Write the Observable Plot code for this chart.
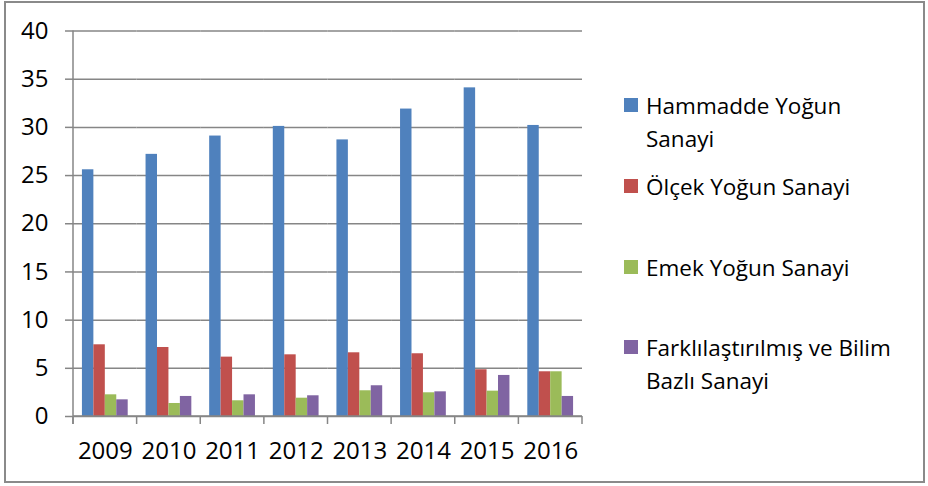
<!DOCTYPE html>
<html><head><meta charset="utf-8">
<script src="https://cdn.jsdelivr.net/npm/d3@7"></script>
<script src="https://cdn.jsdelivr.net/npm/@observablehq/plot@0.6"></script>
<style>
body{margin:0;background:#fff;}
#wrap{position:relative;width:928px;height:486px;font-family:"Open Sans",sans-serif;overflow:hidden;}
#border{position:absolute;left:4px;top:1px;width:917px;height:478px;border:2px solid #8a8a8a;pointer-events:none;}
.sw{position:absolute;left:624px;width:14px;height:14px;}
.lt{position:absolute;left:646px;font-size:22.5px;line-height:33px;white-space:pre;color:#000;}
</style></head>
<body>
<div id="wrap"><div id="border"></div></div>
<script>
const years = ["2009","2010","2011","2012","2013","2014","2015","2016"];
const series = ["Hammadde Yoğun Sanayi","Ölçek Yoğun Sanayi","Emek Yoğun Sanayi","Farklılaştırılmış ve Bilim Bazlı Sanayi"];
const legendLabels = ["Hammadde Yoğun\nSanayi","Ölçek Yoğun Sanayi","Emek Yoğun Sanayi","Farklılaştırılmış ve Bilim\nBazlı Sanayi"];
const colors = ["#4F81BD","#C0504D","#9BBB59","#8064A2"];
const hammadde = [25.6, 27.2, 29.1, 30.1, 28.7, 31.9, 34.1, 30.2];
const olcek    = [7.44, 7.16, 6.16, 6.4, 6.61, 6.51, 4.85, 4.64];
const emek     = [2.25, 1.35, 1.63, 1.9, 2.67, 2.46, 2.63, 4.64];
const farkli   = [1.73, 2.08, 2.25, 2.15, 3.19, 2.56, 4.26, 2.08];
const yTicks = [0,5,10,15,20,25,30,35,40];

const valuesBySeries = [hammadde, olcek, emek, farkli];
const data = [];
years.forEach((yr, i) => series.forEach((s, j) => data.push({year: yr, series: s, value: valuesBySeries[j][i]})));

const W = 928, H = 486;
const plot = Plot.plot({
  width: W, height: H,
  marginLeft: 73, marginRight: 346, marginTop: 30.5, marginBottom: 70,
  style: {fontFamily: '"Open Sans", sans-serif', background: "transparent", overflow: "visible"},
  fx: {domain: years, paddingInner: 0, paddingOuter: 0, round: false, label: null},
  x: {domain: series, paddingInner: 0, paddingOuter: 0.78, round: false, axis: null},
  y: {domain: [0, 40], label: null},
  color: {domain: series, range: colors},
  marks: [
    Plot.gridY(yTicks, {stroke: "#868686", strokeOpacity: 1, strokeWidth: 1.5}),
    Plot.barY(data, {fx: "year", x: "series", y: "value", fill: "series"}),
    Plot.axisY({ticks: yTicks, tickSize: 8, tickPadding: 17, fontSize: 24, stroke: "#868686", strokeWidth: 1.5, fill: "#000", tickFormat: d => String(d)}),
    Plot.axisFx({anchor: "bottom", tickSize: 0, tickPadding: 25, fontSize: 24, fill: "#000", label: null})
  ]
});

// axis line and category boundary ticks from the library's scales
const fx = plot.scale("fx"), y = plot.scale("y");
const bw = fx.bandwidth;
const edges = years.map(v => fx.apply(v)).concat([fx.apply(years[years.length-1]) + bw]);
const svg = d3.select(plot);
const g = svg.append("g").attr("stroke", "#868686").attr("stroke-width", 1.5);
g.append("line").attr("x1", edges[0]).attr("x2", edges[0]).attr("y1", y.apply(40)).attr("y2", y.apply(0) + 8);
g.append("line").attr("x1", edges[0]).attr("x2", edges[edges.length-1]).attr("y1", y.apply(0)).attr("y2", y.apply(0));
edges.forEach(e => g.append("line").attr("x1", e).attr("x2", e).attr("y1", y.apply(0)).attr("y2", y.apply(0) + 8));

const wrap = document.getElementById("wrap");
wrap.insertBefore(plot, wrap.firstChild);
plot.style.position = "absolute"; plot.style.left = "0"; plot.style.top = "0";

const legendTops = [88.5, 169.5, 250.5, 330.5];
legendLabels.forEach((lab, i) => {
  const sw = document.createElement("div");
  sw.className = "sw"; sw.style.background = colors[i]; sw.style.top = (legendTops[i] + 9.5) + "px";
  const t = document.createElement("div");
  t.className = "lt"; t.textContent = lab; t.style.top = legendTops[i] + "px";
  wrap.appendChild(sw); wrap.appendChild(t);
});
</script>
</body></html>
